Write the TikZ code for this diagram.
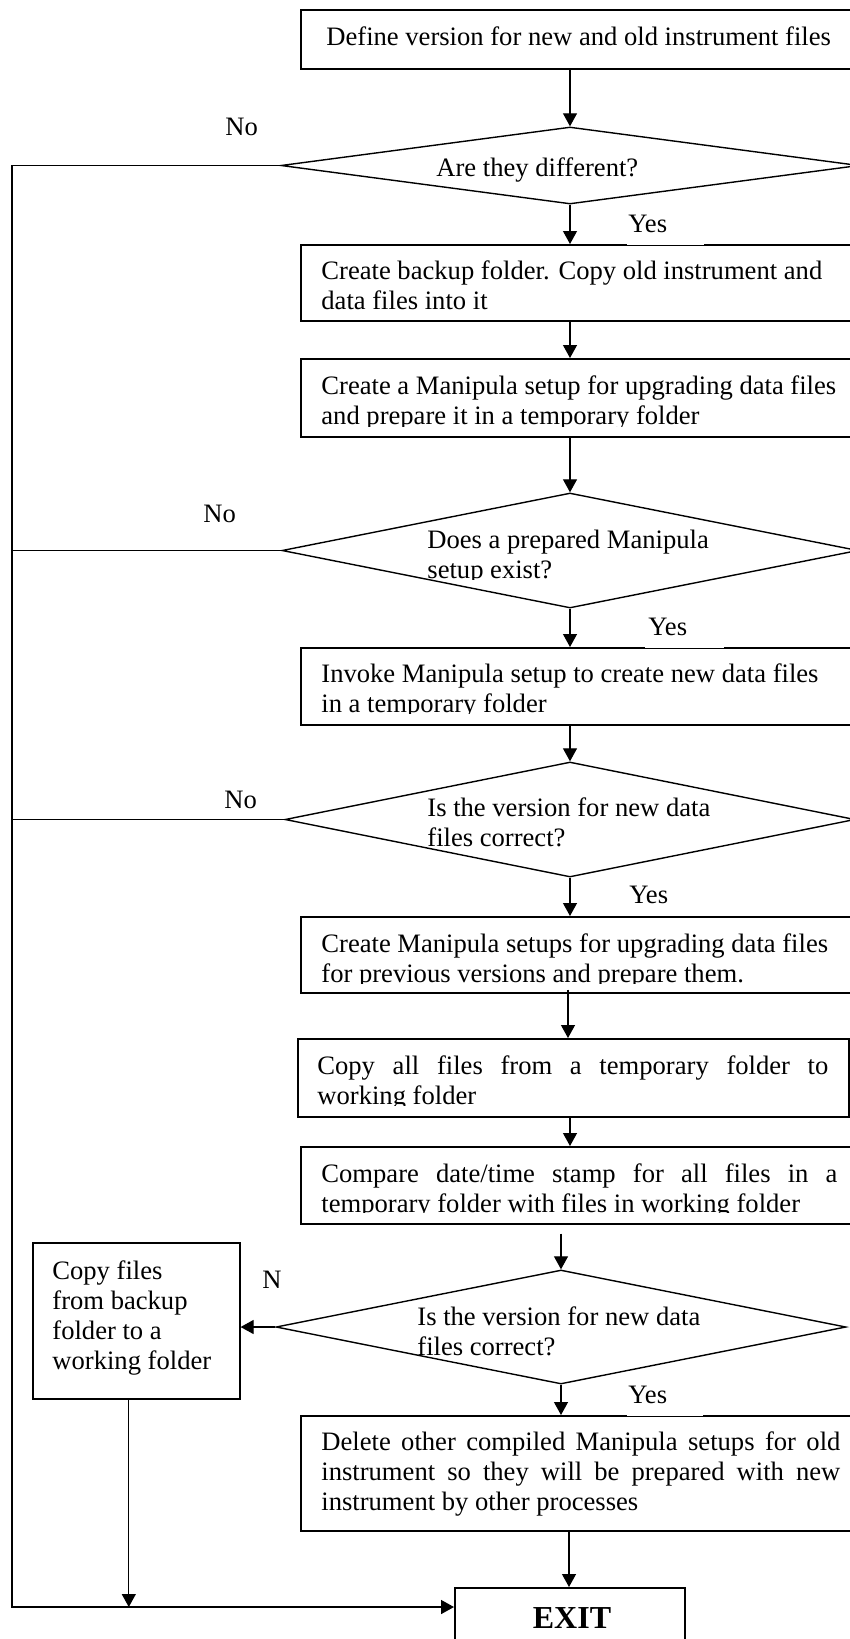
\documentclass[tikz,border=0pt]{standalone}
\usepackage{fontspec}
\setmainfont{Liberation Serif}
\usetikzlibrary{arrows.meta,shapes.geometric}
\begin{document}
\begin{tikzpicture}[x=0.5pt,y=-0.5pt,
  every node/.style={font=\fontsize{13.3}{15}\selectfont},
  boxn/.style={draw, line width=0.8pt, rectangle, inner sep=0pt, anchor=north west},
  dia/.style={draw, line width=0.7pt, diamond, inner sep=0pt},
  txt/.style={inner sep=0pt, anchor=base west},
  lab/.style={inner sep=0pt, anchor=base west},
  yeslab/.style={inner sep=0pt, anchor=base west, fill=white, text depth=6.6pt},
  arr/.style={line width=0.6pt, -{Triangle[length=6.5pt,width=7pt]}},
  conn/.style={line width=0.6pt},
  loopl/.style={line width=0.8pt}]
\useasboundingbox (0,0) rectangle (850,1639);
\fill[white] (0,0) rectangle (850,1639);
\clip (0,0) rectangle (850,1639);
\coordinate (sp) at (570,0);
\coordinate (lft) at (12,0);
% boxes
\node[boxn, minimum width=276pt, minimum height=29.5pt] (b1) at (300,9) {};
\node[boxn, minimum width=276pt, minimum height=38pt] (b2) at (300,244) {};
\node[boxn, minimum width=276pt, minimum height=39pt] (b3) at (300,358) {};
\node[boxn, minimum width=276pt, minimum height=38.5pt] (b4) at (300,647) {};
\node[boxn, minimum width=276pt, minimum height=38pt] (b5) at (300,916) {};
\node[boxn, line width=1.2pt, minimum width=275.75pt, minimum height=39pt] (b6) at (296.5,1038) {};
\node[boxn, minimum width=276pt, minimum height=38.5pt] (b7) at (300,1146) {};
\node[boxn, minimum width=103.5pt, minimum height=78pt] (lb) at (32,1242) {};
\node[boxn, minimum width=276pt, minimum height=57.5pt] (b8) at (300,1415) {};
\node[boxn, minimum width=115pt, minimum height=46.5pt] (ex) at (454,1587) {};
% diamonds
\node[dia, minimum width=289pt, minimum height=38.5pt] (d1) at (570,165.5) {};
\node[dia, minimum width=288pt, minimum height=57.5pt] (d2) at (570,550.5) {};
\node[dia, minimum width=285pt, minimum height=57.5pt] (d3) at (570,819.5) {};
\node[dia, minimum width=285pt, minimum height=57pt] (d4) at (561,1327) {};
% texts
\node[txt] (t1) at (326,45) {Define version for new and old instrument files};
\node[txt] (td1) at (436,176) {Are they different?};
\node[txt] (t2) at (321,279) {\parbox[t]{300pt}{Create backup folder. Copy old instrument and\\data files into it}};
\begin{scope}
\clip (300,358) rectangle (852,426);
\node[txt] (t3) at (321,394) {\parbox[t]{300pt}{Create a Manipula setup for upgrading data files\\and prepare it in a temporary folder}};
\end{scope}
\begin{scope}
\clip (300,493) rectangle (852,579);
\node[txt] (td2) at (427,548) {\parbox[t]{300pt}{Does a prepared Manipula\\setup exist?}};
\end{scope}
\begin{scope}
\clip (300,647) rectangle (852,713);
\node[txt] (t4) at (321,682) {\parbox[t]{300pt}{Invoke Manipula setup to create new data files\\in a temporary folder}};
\end{scope}
\begin{scope}
\clip (300,762) rectangle (852,848);
\node[txt] (td3) at (427,816) {\parbox[t]{300pt}{Is the version for new data\\files correct?}};
\end{scope}
\begin{scope}
\clip (300,916) rectangle (852,983);
\node[txt] (t5) at (321,952) {\parbox[t]{300pt}{Create Manipula setups for upgrading data files\\for previous versions and prepare them.}};
\end{scope}
\begin{scope}
\clip (300,1038) rectangle (852,1105);
\node[txt] (t6) at (317,1074) {\parbox[t]{255.5pt}{\makebox[255.5pt][s]{Copy all files from a temporary folder to}\\working folder}};
\end{scope}
\begin{scope}
\clip (300,1146) rectangle (852,1212);
\node[txt] (t7) at (321,1182) {\parbox[t]{258pt}{\makebox[258pt][s]{Compare date/time stamp for all files in a}\\temporary folder with files in working folder}};
\end{scope}
\node[txt] (td4) at (417,1325) {\parbox[t]{300pt}{Is the version for new data\\files correct?}};
\node[txt] (tlb) at (52,1279) {\parbox[t]{100pt}{Copy files\\from backup\\folder to a\\working folder}};
\node[txt] (t8) at (321,1450) {\parbox[t]{259.5pt}{\makebox[259.5pt][s]{Delete other compiled Manipula setups for old}\\\makebox[259.5pt][s]{instrument so they will be prepared with new}\\instrument by other processes}};
\node[inner sep=0pt, anchor=base, font=\fontsize{16}{18}\selectfont\bfseries] (tex) at (572,1628) {EXIT};
% connectors
\draw[arr] (sp |- b1.south) -- (d1.north);
\draw[arr] (d1.south) -- (sp |- b2.north);
\draw[arr] (sp |- b2.south) -- (sp |- b3.north);
\draw[arr] (sp |- b3.south) -- (d2.north);
\draw[arr] (d2.south) -- (sp |- b4.north);
\draw[arr] (sp |- b4.south) -- (d3.north);
\draw[arr] (d3.south) -- (sp |- b5.north);
\draw[arr] ([xshift=-1pt,yshift=2pt]sp |- b5.south) -- ([xshift=-1pt]sp |- b6.north);
\draw[arr] (sp |- b6.south) -- (sp |- b7.north);
\draw[arr] ([yshift=-4.5pt]d4.north |- b7.south) -- (d4.north);
\draw[arr] (d4.south) -- (d4.south |- b8.north);
\draw[arr] ([xshift=-0.5pt]sp |- b8.south) -- ([xshift=-0.5pt]sp |- ex.north);
\draw[arr] (d4.west) -- (d4.west -| lb.east);
\coordinate (exL) at ([yshift=-10pt]ex.north west);
\draw[loopl] (d2.west) -- (d2.west -| lft);
\draw[loopl] (d3.west) -- (d3.west -| lft);
\draw[loopl, -{Triangle[length=6.5pt,width=7pt]}] (d1.west) -- (d1.west -| lft) -- (lft |- exL) -- (exL);
\draw[arr] ([xshift=-3.75pt]lb.south) -- ([xshift=-3.75pt]lb.south |- exL);
% labels
\node[lab] (no1) at (225,135) {No};
\node[lab] (no2) at (203,522) {No};
\node[lab] (no3) at (224,808) {No};
\node[lab] (n4) at (262,1288) {N};
\node[yeslab] (y1) at (627,232) {\makebox[38.5pt][l]{\hspace{0.5pt}Yes}};
\node[yeslab] (y2) at (645,635) {\makebox[39.5pt][l]{\hspace{1.5pt}Yes}};
\node[yeslab] (y3) at (627,903) {\makebox[38.5pt][l]{\hspace{1pt}Yes}};
\node[yeslab] (y4) at (627,1403) {\makebox[38pt][l]{\hspace{0.5pt}Yes}};
\end{tikzpicture}
\end{document}
